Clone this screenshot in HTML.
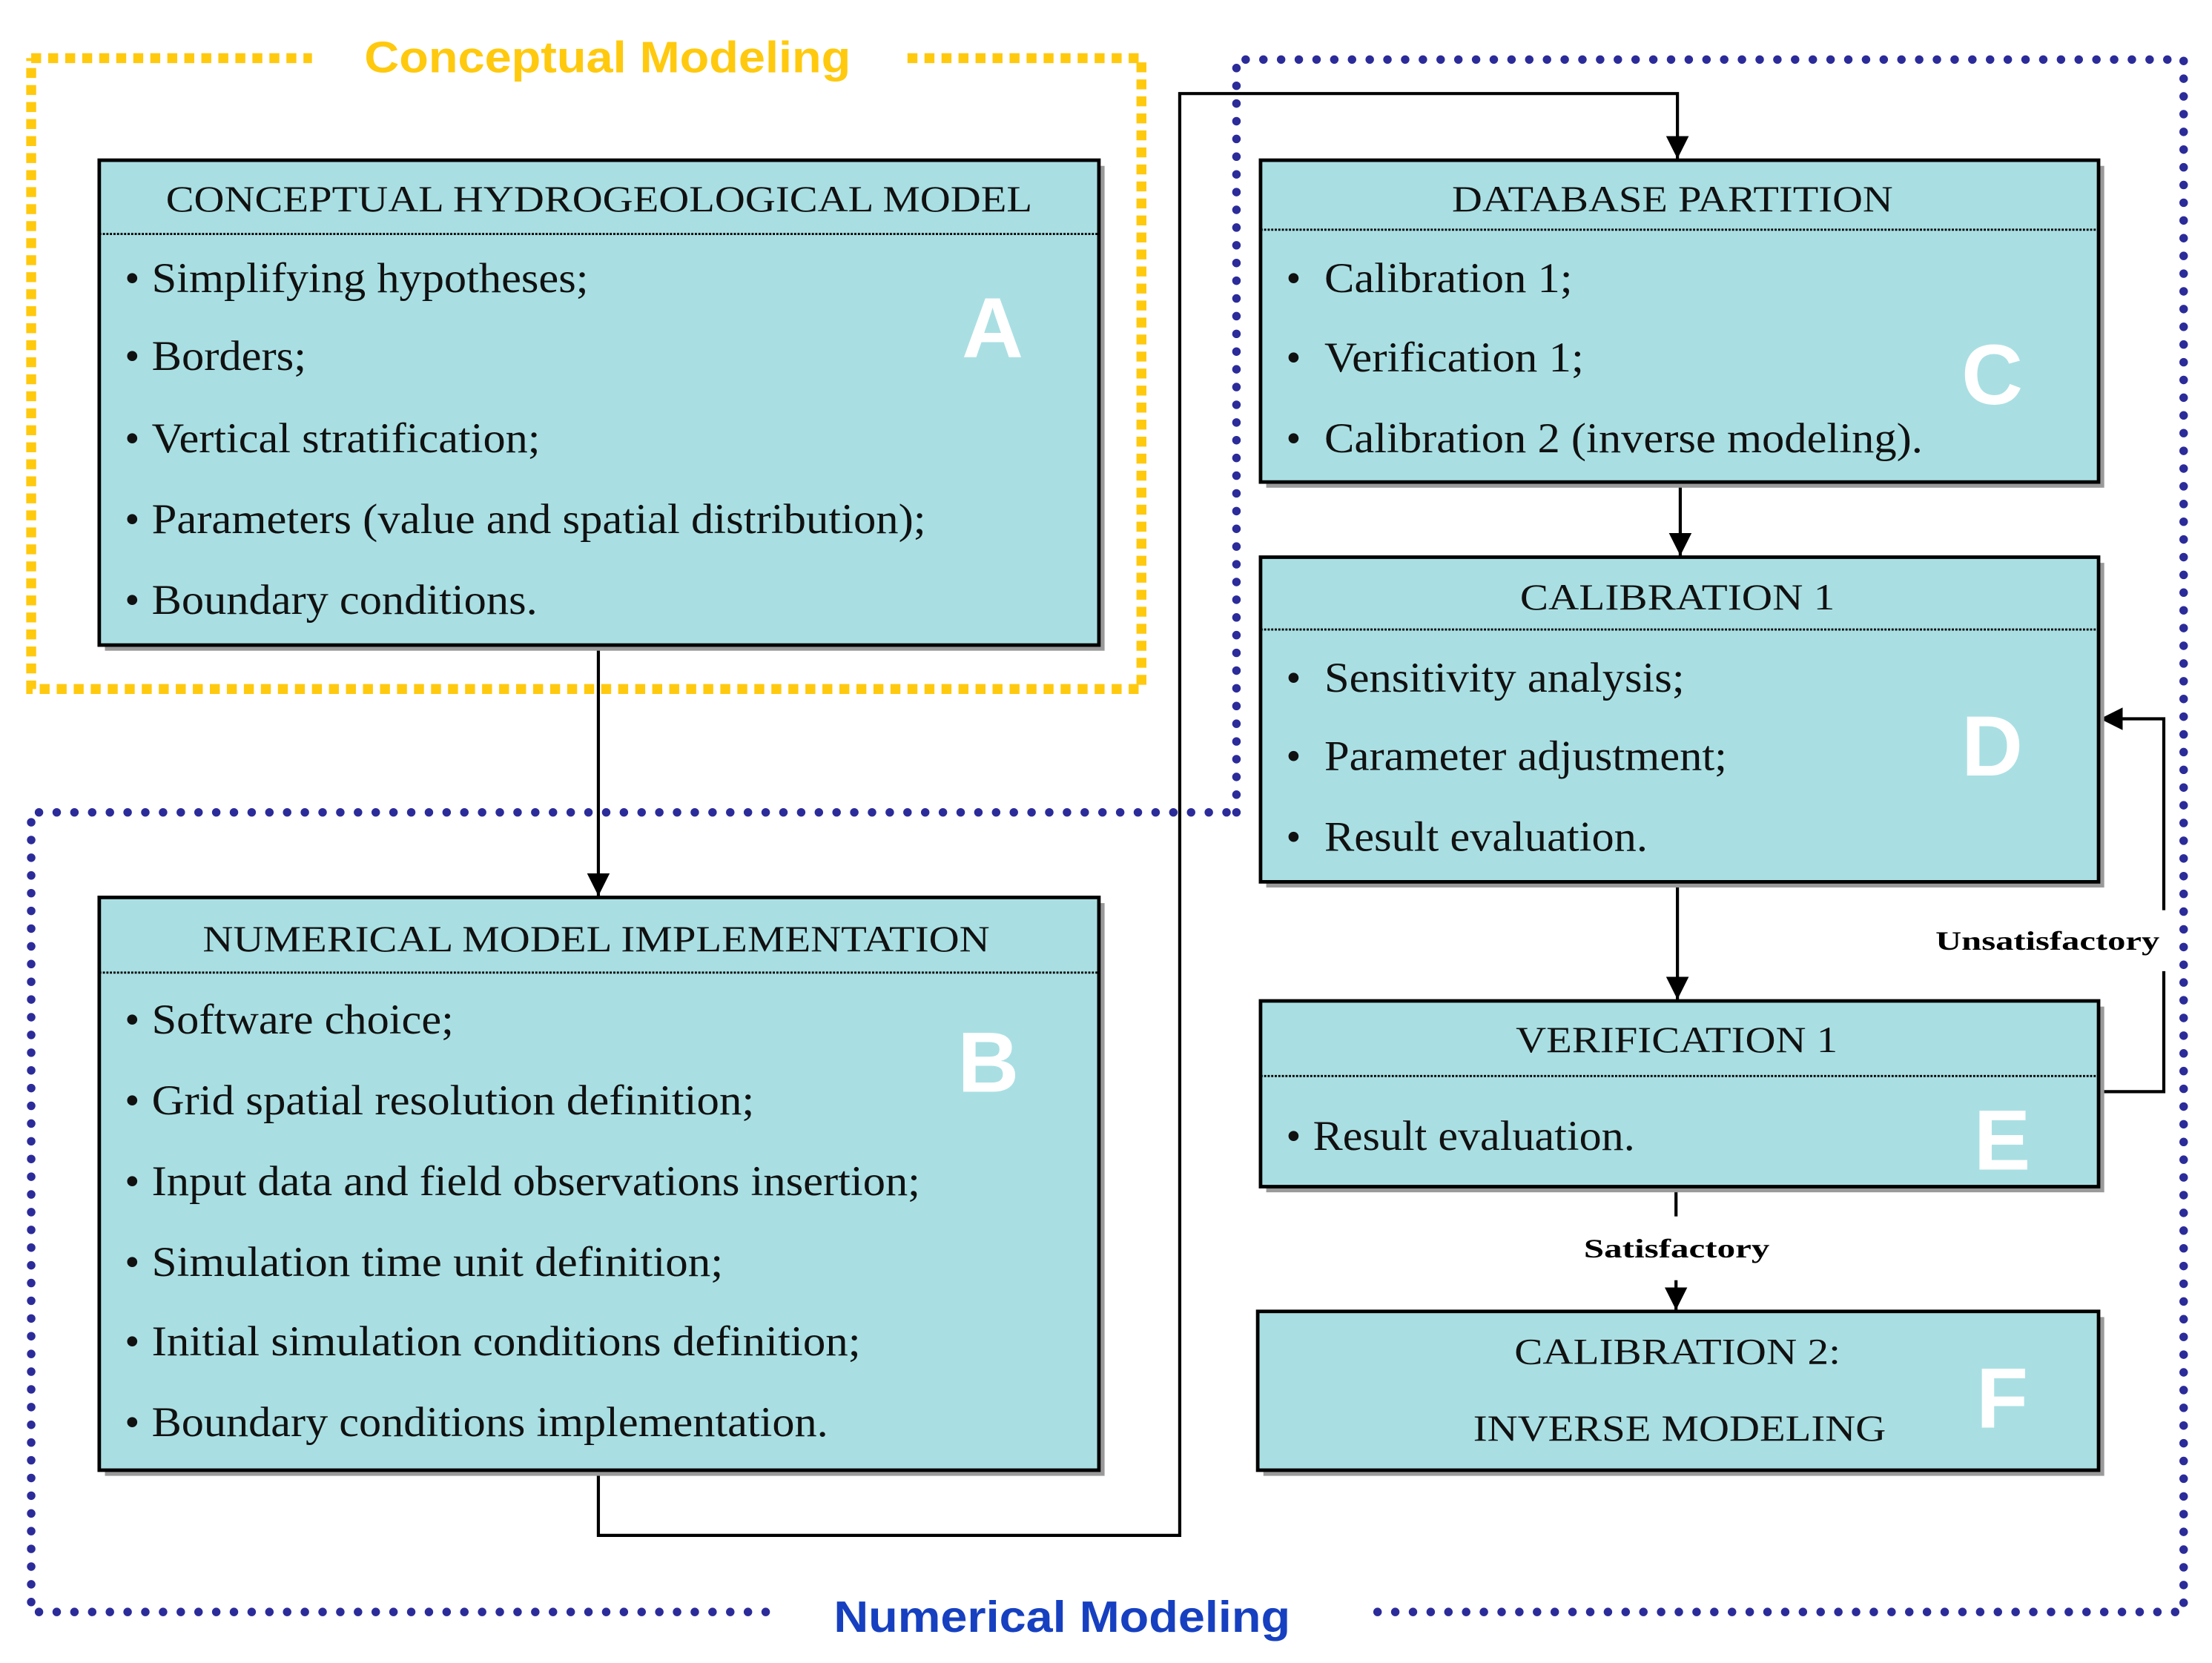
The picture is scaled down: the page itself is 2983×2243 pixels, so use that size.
<!DOCTYPE html>
<html><head><meta charset="utf-8"><style>html,body{margin:0;padding:0;background:#fff}svg{display:block}</style></head>
<body>
<svg width="2983" height="2243" viewBox="0 0 1560 1173" preserveAspectRatio="none" xmlns="http://www.w3.org/2000/svg">
<defs>
<marker id="ar" viewBox="0 0 10 10" refX="10" refY="5" markerWidth="16" markerHeight="20" markerUnits="userSpaceOnUse" orient="auto"><path d="M0,0L10,5L0,10z" fill="#000"/></marker>
</defs>
<rect width="1560" height="1173" fill="#fff"/>
<g stroke="#FFC90E" stroke-width="7" fill="none" stroke-dasharray="7 5">
<path d="M22,41 H220"/><path d="M640,41 H805 V486 H22 V41"/>
</g>
<text x="257" y="51" font-family="Liberation Sans, sans-serif" font-weight="bold" font-size="31" fill="#FFC90E" textLength="343" lengthAdjust="spacingAndGlyphs">Conceptual  Modeling</text>
<g stroke="#2B2B9A" stroke-width="6" fill="none" stroke-dasharray="0 12.5" stroke-linecap="round">
<path d="M872,573 V42 H1540 V1137 H960"/>
<path d="M540,1137 H22 V573 H872"/>
</g>
<text x="588" y="1151" font-family="Liberation Sans, sans-serif" font-weight="bold" font-size="31" fill="#1640C0" textLength="322" lengthAdjust="spacingAndGlyphs">Numerical Modeling</text>
<g stroke="#000" stroke-width="2.2" fill="none">
<path d="M422,455 V632" marker-end="url(#ar)"/>
<path d="M422,1037 V1083 H832 V66 H1183 V112" marker-end="url(#ar)"/>
<path d="M1185,340 V392" marker-end="url(#ar)"/>
<path d="M1183,622 V705" marker-end="url(#ar)"/>
<path d="M1480,770 H1526 V685"/>
<path d="M1526,642 V507 H1481" marker-end="url(#ar)"/>
<path d="M1182,837 V858"/>
<path d="M1182,903 V924" marker-end="url(#ar)"/>
</g>
<g font-family="Liberation Serif, serif" font-weight="bold" font-size="19" fill="#000">
<text x="1365" y="670" textLength="158" lengthAdjust="spacingAndGlyphs">Unsatisfactory</text>
<text x="1117" y="887" textLength="131" lengthAdjust="spacingAndGlyphs">Satisfactory</text>
</g>
<g fill="#9a9a9a">
<rect x="74" y="117" width="705" height="342"/>
<rect x="74" y="637" width="705" height="404"/>
<rect x="893" y="117" width="591" height="227"/>
<rect x="893" y="397" width="591" height="229"/>
<rect x="893" y="710" width="591" height="131"/>
<rect x="891" y="929" width="593" height="112"/>
</g>
<g fill="#A9DFE3" stroke="#000" stroke-width="2.5">
<rect x="70" y="113" width="705" height="342"/>
<rect x="70" y="633" width="705" height="404"/>
<rect x="889" y="113" width="591" height="227"/>
<rect x="889" y="393" width="591" height="229"/>
<rect x="889" y="706" width="591" height="131"/>
<rect x="887" y="925" width="593" height="112"/>
</g>
<g stroke="#000" stroke-width="1.5" stroke-dasharray="1.5 1">
<path d="M70,165 H775"/><path d="M70,686 H775"/><path d="M889,162 H1480"/><path d="M889,444 H1480"/><path d="M889,759 H1480"/>
</g>
<g font-family="Liberation Serif, serif" font-size="26" fill="#111">
<text x="117" y="149" textLength="611" lengthAdjust="spacingAndGlyphs">CONCEPTUAL HYDROGEOLOGICAL MODEL</text>
<text x="143" y="671" textLength="555" lengthAdjust="spacingAndGlyphs">NUMERICAL MODEL IMPLEMENTATION</text>
<text x="1024" y="149" textLength="311" lengthAdjust="spacingAndGlyphs">DATABASE PARTITION</text>
<text x="1072" y="430" textLength="222" lengthAdjust="spacingAndGlyphs">CALIBRATION 1</text>
<text x="1069" y="742" textLength="227" lengthAdjust="spacingAndGlyphs">VERIFICATION 1</text>
<text x="1068" y="962" textLength="230" lengthAdjust="spacingAndGlyphs">CALIBRATION 2:</text>
<text x="1039" y="1016" textLength="291" lengthAdjust="spacingAndGlyphs">INVERSE MODELING</text>
</g>
<g font-family="Liberation Serif, serif" font-size="30" fill="#111">
<text x="88" y="206">•</text><text x="107" y="206" textLength="308" lengthAdjust="spacingAndGlyphs">Simplifying hypotheses;</text>
<text x="88" y="261">•</text><text x="107" y="261" textLength="109" lengthAdjust="spacingAndGlyphs">Borders;</text>
<text x="88" y="319">•</text><text x="107" y="319" textLength="274" lengthAdjust="spacingAndGlyphs">Vertical stratification;</text>
<text x="88" y="376">•</text><text x="107" y="376" textLength="546" lengthAdjust="spacingAndGlyphs">Parameters (value and spatial distribution);</text>
<text x="88" y="433">•</text><text x="107" y="433" textLength="272" lengthAdjust="spacingAndGlyphs">Boundary conditions.</text>
<text x="88" y="729">•</text><text x="107" y="729" textLength="213" lengthAdjust="spacingAndGlyphs">Software choice;</text>
<text x="88" y="786">•</text><text x="107" y="786" textLength="425" lengthAdjust="spacingAndGlyphs">Grid spatial resolution definition;</text>
<text x="88" y="843">•</text><text x="107" y="843" textLength="542" lengthAdjust="spacingAndGlyphs">Input data and field observations insertion;</text>
<text x="88" y="900">•</text><text x="107" y="900" textLength="403" lengthAdjust="spacingAndGlyphs">Simulation time unit definition;</text>
<text x="88" y="956">•</text><text x="107" y="956" textLength="500" lengthAdjust="spacingAndGlyphs">Initial simulation conditions definition;</text>
<text x="88" y="1013">•</text><text x="107" y="1013" textLength="477" lengthAdjust="spacingAndGlyphs">Boundary conditions implementation.</text>
<text x="907" y="206">•</text><text x="934" y="206" textLength="175" lengthAdjust="spacingAndGlyphs">Calibration 1;</text>
<text x="907" y="262">•</text><text x="934" y="262" textLength="183" lengthAdjust="spacingAndGlyphs">Verification 1;</text>
<text x="907" y="319">•</text><text x="934" y="319" textLength="422" lengthAdjust="spacingAndGlyphs">Calibration 2 (inverse modeling).</text>
<text x="907" y="488">•</text><text x="934" y="488" textLength="254" lengthAdjust="spacingAndGlyphs">Sensitivity analysis;</text>
<text x="907" y="543">•</text><text x="934" y="543" textLength="284" lengthAdjust="spacingAndGlyphs">Parameter adjustment;</text>
<text x="907" y="600">•</text><text x="934" y="600" textLength="228" lengthAdjust="spacingAndGlyphs">Result evaluation.</text>
<text x="907" y="811">•</text><text x="926" y="811" textLength="227" lengthAdjust="spacingAndGlyphs">Result evaluation.</text>
</g>
<g font-family="Liberation Sans, sans-serif" font-weight="bold" font-size="60" fill="#fff" text-anchor="middle">
<text x="700" y="252">A</text>
<text x="697" y="770">B</text>
<text x="1405" y="285">C</text>
<text x="1405" y="547">D</text>
<text x="1412" y="825">E</text>
<text x="1412" y="1007">F</text>
</g>
</svg>
</body></html>
